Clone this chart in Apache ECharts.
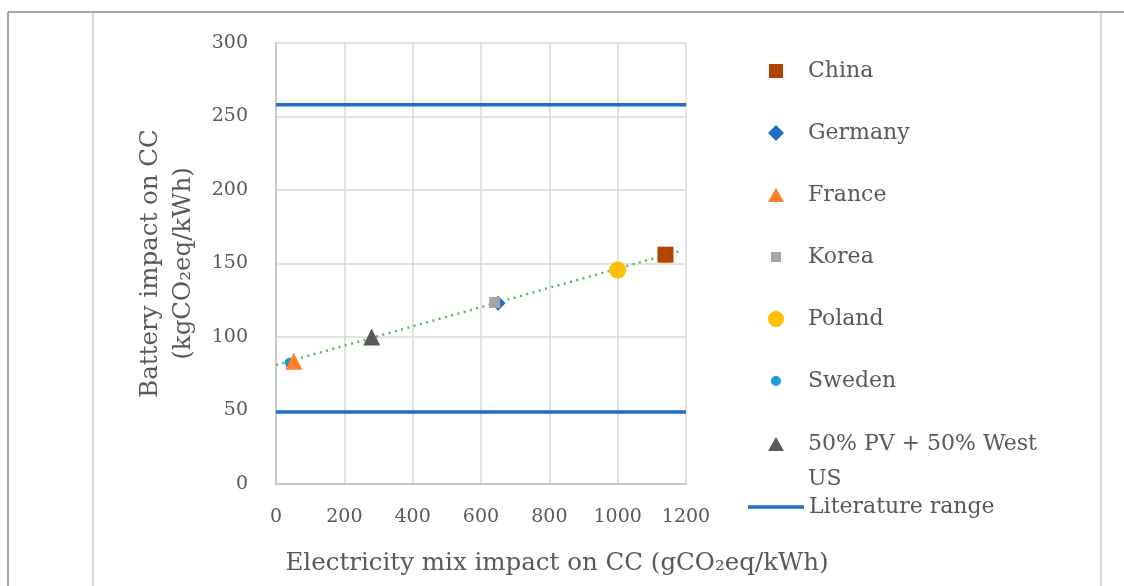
<!DOCTYPE html>
<html>
<head>
<meta charset="utf-8">
<title>Battery impact vs electricity mix</title>
<script src="https://cdn.jsdelivr.net/npm/echarts@6/dist/echarts.min.js"></script>
<style>
  html, body { margin: 0; padding: 0; background: #ffffff; }
  #chart { width: 1124px; height: 586px; }
</style>
</head>
<body>
<div id="chart"></div>
<script>
// Electricity mix impact (gCO2eq/kWh) and battery impact (kgCO2eq/kWh) per production mix
const china   = [[1140, 156]];
const germany = [[650, 123]];
const france  = [[52, 83.5]];
const korea   = [[640, 123.5]];
const poland  = [[1000, 145.5]];
const sweden  = [[40, 82.5]];
const pvWest  = [[280, 100]];

// Linear trend through the points
const trend = [[0, 81], [1190, 159]];

// Literature range bounds (kgCO2eq/kWh)
const litUpper = 258;
const litLower = 49;

const xTicks = { min: 0, max: 1200, interval: 200 };
const yTicks = { min: 0, max: 300, interval: 50 };

const pvName = '50% PV + 50% West US';
const litName = 'Literature range';

const FONT = '"DejaVu Serif", "Liberation Serif", serif';
const TEXT = '#595959';

const chart = echarts.init(document.getElementById('chart'), null, { renderer: 'canvas' });

function pt(name, data, symbol, size, color) {
  return {
    name: name,
    type: 'scatter',
    data: data,
    symbol: symbol,
    symbolSize: size,
    itemStyle: { color: color, opacity: 1 },
    z: 4
  };
}

function litLine(y) {
  return {
    name: litName,
    type: 'line',
    data: [[xTicks.min, y], [xTicks.max, y]],
    symbol: 'none',
    lineStyle: { color: '#1f6fc6', width: 3.5 },
    itemStyle: { color: '#1f6fc6' },
    z: 3
  };
}

// Legend icons drawn inside a 16x16 box (zero-area corner marks fix the box size)
const BOX = 'M0,0L0,0.01ZM16,16L16,15.99Z';
const iconSquare   = 'path://' + BOX + 'M1,1H15V15H1Z';
const iconDiamond  = 'path://' + BOX + 'M8,0L16,8L8,16L0,8Z';
const iconTriangle = 'path://' + BOX + 'M8,1L16,15H0Z';
const iconCircle   = 'path://' + BOX + 'M8,0A8,8 0 1 1 7.99,0Z';
const smallSquare  = 'path://' + BOX + 'M3,3H13V13H3Z';
const smallCircle  = 'path://' + BOX + 'M8,3A5,5 0 1 1 7.99,3Z';
const iconLine     = 'path://M0,0H56V3.5H0Z';

const legendText = { fontFamily: FONT, fontSize: 22, color: TEXT, lineHeight: 35 };

chart.setOption({
  backgroundColor: '#ffffff',
  animation: false,
  graphic: [
    { type: 'line', shape: { x1: 8, y1: 12, x2: 1124, y2: 12 }, style: { stroke: '#8a8a8a', lineWidth: 1.5 }, silent: true },
    { type: 'line', shape: { x1: 8, y1: 12, x2: 8, y2: 586 }, style: { stroke: '#8a8a8a', lineWidth: 1.5 }, silent: true },
    { type: 'line', shape: { x1: 93, y1: 13, x2: 93, y2: 586 }, style: { stroke: '#d6d6d6', lineWidth: 2 }, silent: true },
    { type: 'line', shape: { x1: 1101, y1: 13, x2: 1101, y2: 586 }, style: { stroke: '#d6d6d6', lineWidth: 2 }, silent: true }
  ],
  grid: { left: 276, right: 438, top: 43, bottom: 102, containLabel: false },
  xAxis: {
    type: 'value',
    min: xTicks.min, max: xTicks.max, interval: xTicks.interval,
    axisLine: { show: true, lineStyle: { color: '#bfbfbf', width: 1.5 } },
    axisTick: { show: false },
    splitLine: { show: true, lineStyle: { color: '#d9d9d9', width: 1.5 } },
    axisLabel: { fontFamily: FONT, fontSize: 19, color: TEXT, margin: 24, formatter: function (v) { return String(v); } },
    name: 'Electricity mix impact on CC (gCO₂eq/kWh)',
    nameLocation: 'middle',
    nameGap: 67,
    nameTextStyle: { fontFamily: FONT, fontSize: 24.5, color: TEXT, padding: [0, 0, 0, 152] }
  },
  yAxis: {
    type: 'value',
    min: yTicks.min, max: yTicks.max, interval: yTicks.interval,
    axisLine: { show: true, lineStyle: { color: '#bfbfbf', width: 1.5 } },
    axisTick: { show: false },
    splitLine: { show: true, lineStyle: { color: '#d9d9d9', width: 1.5 } },
    axisLabel: { fontFamily: FONT, fontSize: 19, color: TEXT, margin: 28, formatter: function (v) { return String(v); } },
    name: 'Battery impact on CC\n(kgCO₂eq/kWh)',
    nameLocation: 'middle',
    nameGap: 76,
    nameTextStyle: { fontFamily: FONT, fontSize: 24.5, color: TEXT, lineHeight: 33 }
  },
  legend: [
    {
      orient: 'vertical', left: 768, top: 53.5, padding: 0,
      itemWidth: 54, itemHeight: 16, itemGap: 27,
      symbolKeepAspect: true,
      textStyle: legendText,
      data: [
        { name: 'China', icon: iconSquare },
        { name: 'Germany', icon: iconDiamond },
        { name: 'France', icon: iconTriangle },
        { name: 'Korea', icon: smallSquare },
        { name: 'Poland', icon: iconCircle },
        { name: 'Sweden', icon: smallCircle }
      ]
    },
    {
      orient: 'vertical', left: 768, top: 391.5, padding: 0,
      itemWidth: 54, itemHeight: 16,
      symbolKeepAspect: true,
      textStyle: legendText,
      formatter: function () { return ' \n50% PV + 50% West\nUS'; },
      data: [{ name: pvName, icon: iconTriangle }]
    },
    {
      orient: 'vertical', left: 748, top: 489.5, padding: 0,
      itemWidth: 56, itemHeight: 16,
      symbolKeepAspect: true,
      textStyle: legendText,
      data: [{ name: litName, icon: iconLine }]
    }
  ],
  series: [
    {
      name: 'Trend',
      type: 'line',
      data: trend,
      symbol: 'none',
      lineStyle: { color: '#5cb85c', width: 2.5, type: [2, 4.5] },
      z: 2
    },
    litLine(litUpper),
    litLine(litLower),
    pt('Sweden', sweden, 'circle', 10, '#1f9ad8'),
    pt('France', france, 'triangle', 17, '#ff7f2a'),
    pt(pvName, pvWest, 'triangle', 17, '#595959'),
    pt('Germany', germany, 'diamond', 15, '#1f6fc6'),
    pt('Korea', korea, 'rect', 11, '#a5a5a5'),
    pt('Poland', poland, 'circle', 17, '#ffc000'),
    pt('China', china, 'rect', 16, '#b34400')
  ]
});
</script>
</body>
</html>
